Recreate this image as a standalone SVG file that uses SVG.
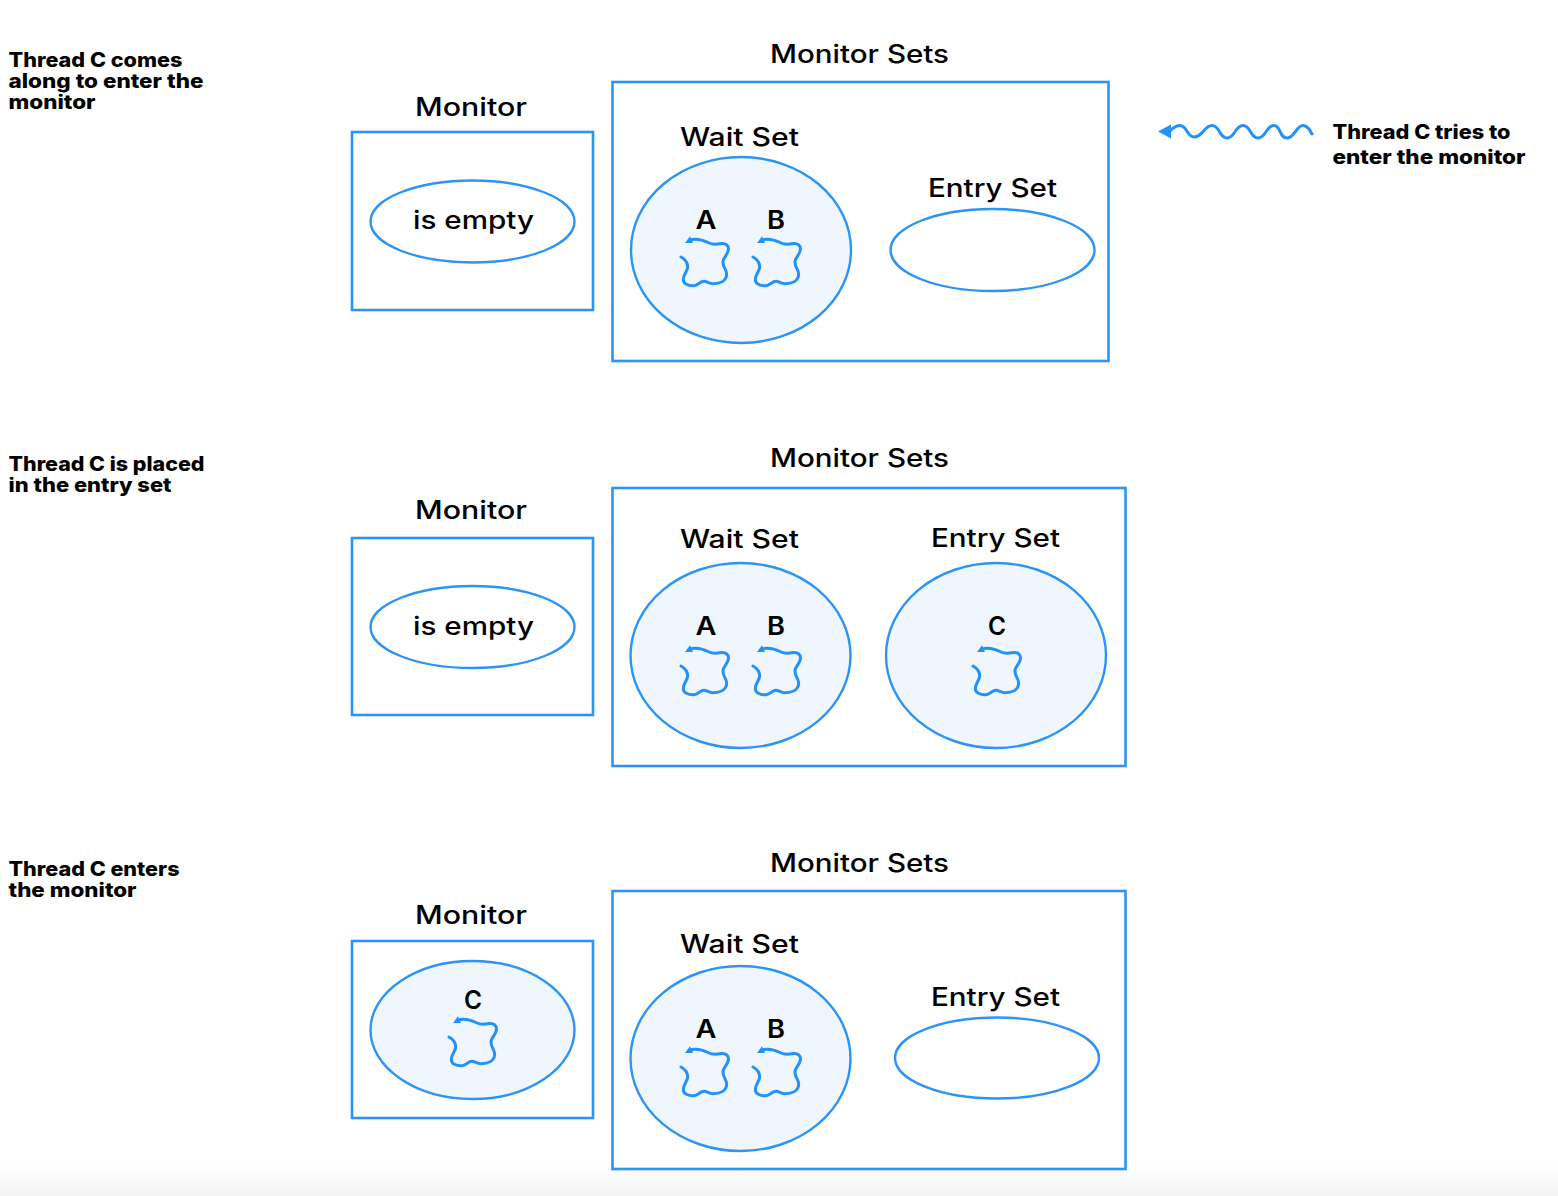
<svg xmlns="http://www.w3.org/2000/svg" width="1558" height="1196" viewBox="0 0 1558 1196">
<style>
.box{fill:#fff;stroke:#2b94f4;stroke-width:2.6}
.e{fill:#fff;stroke:#2b94f4;stroke-width:2.4}
.f{fill:#f0f6fe;stroke:#2b94f4;stroke-width:2.4}
.w{fill:none;stroke:#2292fa;stroke-width:3;stroke-linecap:round;stroke-linejoin:round}
.h{fill:#2292fa}
text{font-family:"Inter","Liberation Sans",sans-serif;fill:#000}
.t{font-size:25px;font-weight:500}
.l{font-size:25px;font-weight:600}
.n{font-size:20px;font-weight:800}
</style>
<defs>
<linearGradient id="fade" x1="0" y1="0" x2="0" y2="1"><stop offset="0" stop-color="#fff"/><stop offset="1" stop-color="#f3f3f3"/></linearGradient>
<g id="sq">
<path class="w" d="M0 0C3.500 2 6.700 5 6.700 10C6.700 14 2.300 17 2.300 22.700C2.300 26.500 7 29 13 28.700C17 28.500 19 24.300 23 24.300C26 24.300 28 26.700 32 26.700C39 26.700 45.500 24 45.700 17C45.700 12.500 41.500 10 42 4.500C42.500 0 47.500 -3 47.500 -8C47.500 -11.500 44.500 -14 40.500 -13.500C35 -12.700 32 -12 28 -14C24 -16 19 -19 11 -17.500"/>
<polygon class="h" points="4,-14 9,-20.700 12,-14"/>
</g>
</defs>
<rect width="1558" height="1196" fill="#fff"/>
<rect y="1165" width="1558" height="31" fill="url(#fade)"/>

<g id="notes">
<text class="n" x="8.500" y="67" textLength="174" lengthAdjust="spacingAndGlyphs">Thread C comes</text>
<text class="n" x="8.500" y="88" textLength="195" lengthAdjust="spacingAndGlyphs">along to enter the</text>
<text class="n" x="8.500" y="109" textLength="87" lengthAdjust="spacingAndGlyphs">monitor</text>
<text class="n" x="8.500" y="471" textLength="196" lengthAdjust="spacingAndGlyphs">Thread C is placed</text>
<text class="n" x="8.500" y="492" textLength="163" lengthAdjust="spacingAndGlyphs">in the entry set</text>
<text class="n" x="8.500" y="876" textLength="171" lengthAdjust="spacingAndGlyphs">Thread C enters</text>
<text class="n" x="8.500" y="897" textLength="128" lengthAdjust="spacingAndGlyphs">the monitor</text>
<text class="n" x="1332.500" y="139" textLength="178" lengthAdjust="spacingAndGlyphs">Thread C tries to</text>
<text class="n" x="1332.500" y="164" textLength="193" lengthAdjust="spacingAndGlyphs">enter the monitor</text>
</g>

<g id="monitor-1">
<text class="t" x="415" y="116" textLength="112" lengthAdjust="spacingAndGlyphs">Monitor</text>
<rect class="box" x="352" y="132" width="241" height="178"/>
<ellipse class="e" cx="472.500" cy="221.500" rx="102" ry="41"/>
<text class="t" x="413" y="228.500" textLength="121" lengthAdjust="spacingAndGlyphs">is empty</text>
</g>
<g id="sets-1">
<text class="t" x="770" y="63" textLength="179" lengthAdjust="spacingAndGlyphs">Monitor Sets</text>
<rect class="box" x="612.500" y="82" width="496" height="279"/>
<text class="t" x="680" y="146" textLength="119" lengthAdjust="spacingAndGlyphs">Wait Set</text>
<ellipse class="f" cx="741" cy="250" rx="110" ry="93"/>
<text class="l" x="695.500" y="229" textLength="21" lengthAdjust="spacingAndGlyphs">A</text><text class="l" x="767" y="229" textLength="18" lengthAdjust="spacingAndGlyphs">B</text>
<use href="#sq" x="681" y="257"/><use href="#sq" x="753" y="257"/>
<text class="t" x="928" y="197" textLength="129" lengthAdjust="spacingAndGlyphs">Entry Set</text>
<ellipse class="e" cx="992.500" cy="250" rx="102" ry="41"/>
</g>

<g id="monitor-2">
<text class="t" x="415" y="519" textLength="112" lengthAdjust="spacingAndGlyphs">Monitor</text>
<rect class="box" x="352" y="538" width="241" height="177"/>
<ellipse class="e" cx="472.500" cy="627" rx="102" ry="41"/>
<text class="t" x="413" y="634.500" textLength="121" lengthAdjust="spacingAndGlyphs">is empty</text>
</g>
<g id="sets-2">
<text class="t" x="770" y="467" textLength="179" lengthAdjust="spacingAndGlyphs">Monitor Sets</text>
<rect class="box" x="612.500" y="488" width="513" height="278"/>
<text class="t" x="680" y="548" textLength="119" lengthAdjust="spacingAndGlyphs">Wait Set</text>
<ellipse class="f" cx="740.500" cy="655.500" rx="110" ry="92.500"/>
<text class="l" x="695.500" y="635" textLength="21" lengthAdjust="spacingAndGlyphs">A</text><text class="l" x="767" y="635" textLength="18" lengthAdjust="spacingAndGlyphs">B</text>
<use href="#sq" x="681" y="666"/><use href="#sq" x="753" y="666"/>
<text class="t" x="931" y="547" textLength="129" lengthAdjust="spacingAndGlyphs">Entry Set</text>
<ellipse class="f" cx="996" cy="655.500" rx="110" ry="92.500"/>
<text class="l" x="988" y="635" textLength="18" lengthAdjust="spacingAndGlyphs">C</text>
<use href="#sq" x="973" y="666"/>
</g>

<g id="monitor-3">
<text class="t" x="415" y="924" textLength="112" lengthAdjust="spacingAndGlyphs">Monitor</text>
<rect class="box" x="352" y="941" width="241" height="177"/>
<ellipse class="f" cx="472.500" cy="1030" rx="102" ry="69"/>
<text class="l" x="464" y="1009" textLength="18" lengthAdjust="spacingAndGlyphs">C</text>
<use href="#sq" x="449" y="1037"/>
</g>
<g id="sets-3">
<text class="t" x="770" y="872" textLength="179" lengthAdjust="spacingAndGlyphs">Monitor Sets</text>
<rect class="box" x="612.500" y="891" width="513" height="278"/>
<text class="t" x="680" y="953" textLength="119" lengthAdjust="spacingAndGlyphs">Wait Set</text>
<ellipse class="f" cx="740.500" cy="1058.500" rx="110" ry="92.500"/>
<text class="l" x="695.500" y="1038" textLength="21" lengthAdjust="spacingAndGlyphs">A</text><text class="l" x="767" y="1038" textLength="18" lengthAdjust="spacingAndGlyphs">B</text>
<use href="#sq" x="681" y="1067"/><use href="#sq" x="753" y="1067"/>
<text class="t" x="931" y="1006" textLength="129" lengthAdjust="spacingAndGlyphs">Entry Set</text>
<ellipse class="e" cx="997" cy="1058" rx="102" ry="40.500"/>
</g>

<g id="connectors">
<path class="w" d="M1312 134C1309 128 1306 125.500 1303 125.500C1296 125.500 1295 138 1287 138C1279 138 1281 125.500 1274 125.500C1266 125.500 1266 138 1258 138C1250 138 1251 125.500 1243 125.500C1235 125.500 1235 138 1227 138C1219 138 1220 125.500 1212 125.500C1204 125.500 1203 137 1194 137C1187 137 1187 125.500 1180 125.500C1176 125.500 1173 128 1170 131"/>
<polygon class="h" points="1158,131.500 1171,124.500 1171,138.500"/>
</g>
</svg>
